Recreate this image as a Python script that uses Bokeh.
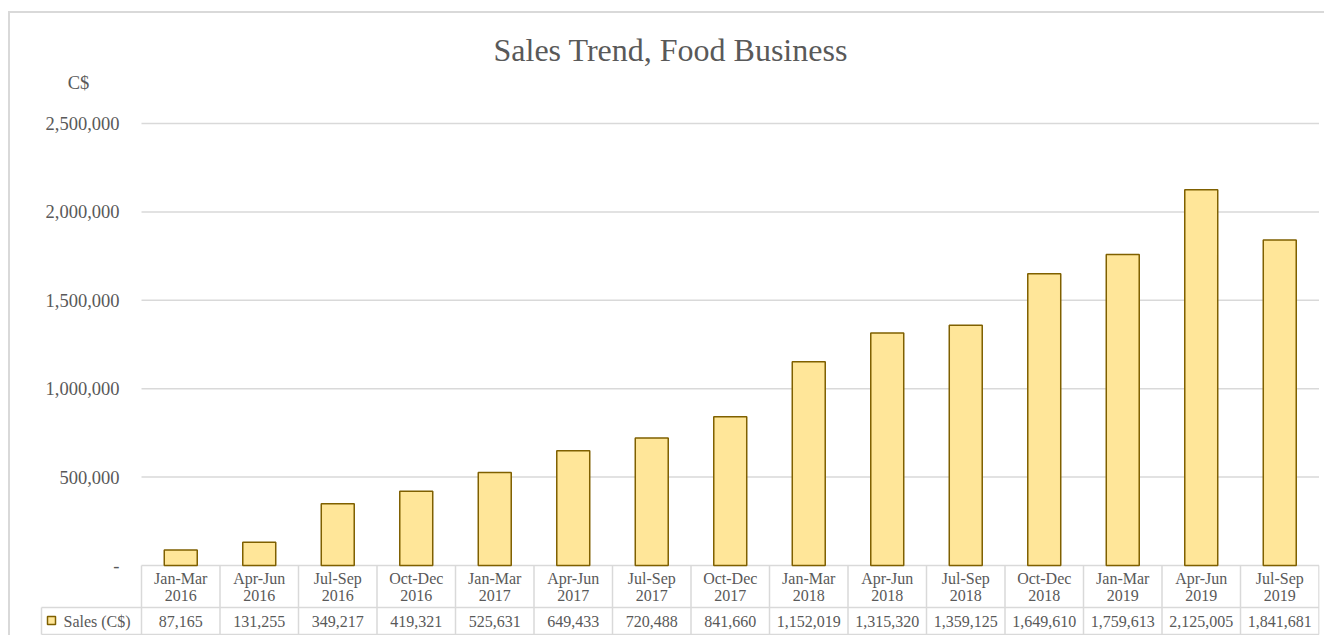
from bokeh.plotting import figure
from bokeh.models import Range1d, LinearAxis, FixedTicker, CustomJSTickFormatter, Label, ColumnDataSource, Grid
from bokeh.core.properties import value
from bokeh.embed import file_html
from bokeh.resources import INLINE

# ---------------- data ----------------
quarters = ["Jan-Mar", "Apr-Jun", "Jul-Sep", "Oct-Dec",
            "Jan-Mar", "Apr-Jun", "Jul-Sep", "Oct-Dec",
            "Jan-Mar", "Apr-Jun", "Jul-Sep", "Oct-Dec",
            "Jan-Mar", "Apr-Jun", "Jul-Sep"]
years = ["2016", "2016", "2016", "2016",
         "2017", "2017", "2017", "2017",
         "2018", "2018", "2018", "2018",
         "2019", "2019", "2019"]
sales = [87165, 131255, 349217, 419321, 525631, 649433, 720488, 841660,
         1152019, 1315320, 1359125, 1649610, 1759613, 2125005, 1841681]
y_ticks = [0, 500000, 1000000, 1500000, 2000000, 2500000]
title_text = "Sales Trend, Food Business"
y_unit = "C$"
series_name = "Sales (C$)"

# ---------------- layout constants ----------------
W, H = 1316, 624
CAT_PX = 78.5                 # width of one category column in px
LEFT_PX = 103                 # frame left edge to first category
LEGEND_PX = 100               # legend cell width
MB_LEFT, MB_RIGHT, MB_TOP, MB_BOTTOM = 28, 7, 59, 0
FRAME_W = W - MB_LEFT - MB_RIGHT
FRAME_H = H - MB_TOP - MB_BOTTOM
BASE_FROM_BOTTOM = 72         # px from frame bottom to value 0
PX_PER_VAL = 442 / 2500000.0

n = len(sales)
x_start = -LEFT_PX / CAT_PX
x_end = x_start + FRAME_W / CAT_PX
y_lo = -BASE_FROM_BOTTOM
y_hi = FRAME_H - BASE_FROM_BOTTOM

FONT = "Liberation Serif"
TXT = "#595959"
GRID = "#d9d9d9"

p = figure(width=W, height=H, output_backend="svg", toolbar_location=None, tools="",
           x_axis_location=None, y_axis_location=None,
           x_range=Range1d(x_start, x_end),
           y_range=Range1d(y_lo / PX_PER_VAL, y_hi / PX_PER_VAL),
           min_border_left=MB_LEFT, min_border_right=MB_RIGHT,
           min_border_top=MB_TOP, min_border_bottom=MB_BOTTOM,
           margin=(11, 0, 0, 8),
           styles={"border-top": "2px solid #d9d9d9", "border-left": "2px solid #d9d9d9"})
p.extra_y_ranges = {"tbl": Range1d(y_lo, y_hi)}
p.outline_line_color = None
p.background_fill_color = "white"
p.border_fill_color = "white"
for r in p.center:
    if isinstance(r, Grid):
        r.visible = False

# title
p.title.text = title_text
p.title.text_font = FONT
p.title.text_font_size = "32px"
p.title.text_font_style = "normal"
p.title.text_color = TXT
p.title.align = "left"
p.title.offset = 455

# y axis
yaxis = LinearAxis(ticker=FixedTicker(ticks=y_ticks),
                   formatter=CustomJSTickFormatter(code="return tick == 0 ? '-' : tick.toLocaleString('en-US');"),
                   fixed_location=0)
yaxis.axis_line_color = None
yaxis.major_tick_line_color = None
yaxis.minor_tick_line_color = None
yaxis.major_tick_out = 0
yaxis.major_tick_in = 0
yaxis.major_label_standoff = 22
yaxis.major_label_text_font = FONT
yaxis.major_label_text_font_size = "18.5px"
yaxis.major_label_text_color = TXT
p.add_layout(yaxis, "left")

# gridlines (from tick list)
gt = y_ticks[1:]
p.segment(x0=[0] * len(gt), x1=[n] * len(gt), y0=gt, y1=gt, line_color=GRID, line_width=1.5)

# table lines (px units below baseline)
HDR_BOTTOM = -42
ROW_BOTTOM = -69
L = -LEGEND_PX / CAT_PX
hx0 = [0, L, L]
hx1 = [n, n, n]
hy = [0, HDR_BOTTOM, ROW_BOTTOM]
p.segment(x0=hx0, x1=hx1, y0=hy, y1=hy, y_range_name="tbl", line_color=GRID, line_width=1.5)
vx = list(range(n + 1)) + [L]
vy0 = [0] * (n + 1) + [HDR_BOTTOM]
vy1 = [ROW_BOTTOM] * (n + 2)
p.segment(x0=vx, x1=vx, y0=vy0, y1=vy1, y_range_name="tbl", line_color=GRID, line_width=1.5)

# bars
centers = [i + 0.5 for i in range(n)]
src = ColumnDataSource(dict(x=centers, top=sales, q=quarters, yr=years,
                            lab=[f"{v:,}" for v in sales]))
p.vbar(x="x", top="top", bottom=0, width=0.42, source=src,
       fill_color="#FFE699", line_color="#7F6000", line_width=1.5)

# table text
txt_kw = dict(source=src, y_range_name="tbl", text_font=value(FONT), text_font_size="16px",
              text_color=TXT, text_align="center", text_baseline="middle")
p.text(x="x", y=-13, text="q", **txt_kw)
p.text(x="x", y=-30, text="yr", **txt_kw)
p.text(x="x", y=-55.5, text="lab", **txt_kw)

# legend cell
p.scatter(x=[(51 - 141) / CAT_PX], y=[-55], y_range_name="tbl", marker="square", size=8,
          fill_color="#FFE699", line_color="#7F6000", line_width=1.5)
p.text(x=[(63 - 141) / CAT_PX], y=[-55.5], text=[series_name], y_range_name="tbl",
       text_font=value(FONT), text_font_size="16px", text_color=TXT,
       text_align="left", text_baseline="middle")

# unit label
p.add_layout(Label(x=(78 - 141) / CAT_PX, y=483, y_range_name="tbl", text=y_unit,
                   text_font=FONT, text_font_size="18.5px", text_color=TXT,
                   text_align="center", text_baseline="middle"))

open("out.html", "w").write(file_html(p, INLINE))
